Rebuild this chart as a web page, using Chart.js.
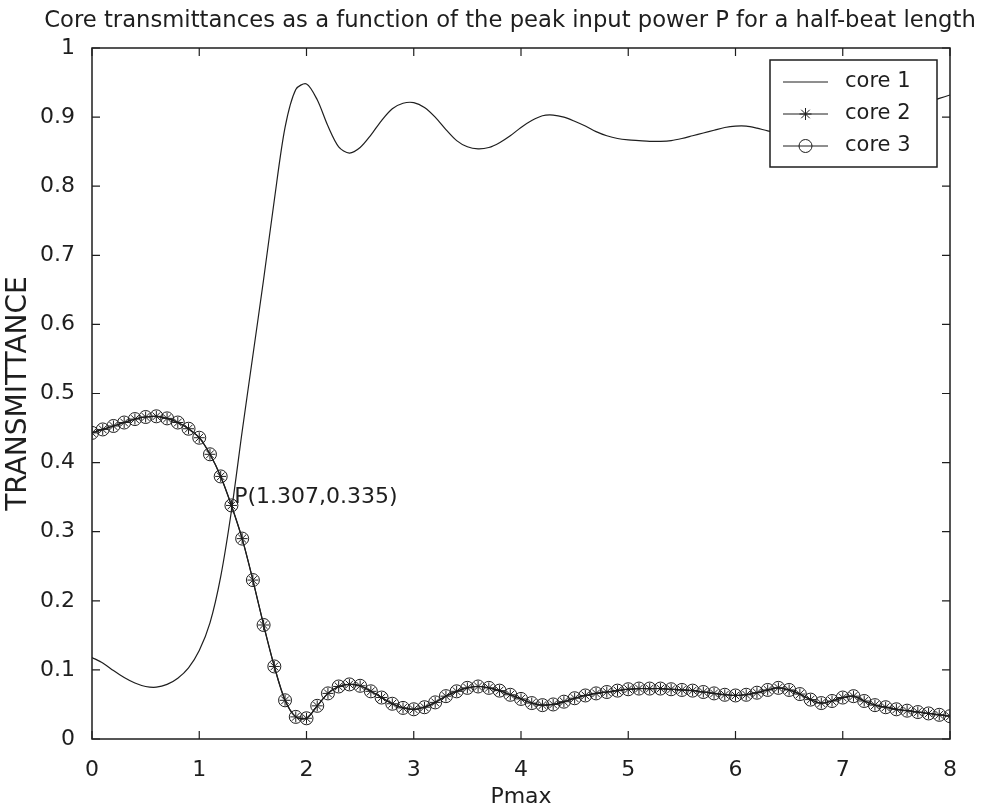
<!DOCTYPE html>
<html lang="en">
<head>
    <meta charset="UTF-8">
    <title>Core transmittances</title>
    <script src="https://cdn.jsdelivr.net/npm/chart.js"></script>
    <style>
        body {
            margin: 0;
            background: #ffffff;
        }
        #chartContainer {
            width: 982px;
            height: 812px;
        }
    </style>
</head>
<body>
    <div id="chartContainer">
        <canvas id="myChart" width="982" height="812"></canvas>
    </div>

    <script>
        // Pmax samples (step 0.1)
        const pmax = [
            0.0, 0.1, 0.2, 0.3, 0.4, 0.5, 0.6, 0.7, 0.8, 0.9,
            1.0, 1.1, 1.2, 1.3, 1.4, 1.5, 1.6, 1.7, 1.8, 1.9,
            2.0, 2.1, 2.2, 2.3, 2.4, 2.5, 2.6, 2.7, 2.8, 2.9,
            3.0, 3.1, 3.2, 3.3, 3.4, 3.5, 3.6, 3.7, 3.8, 3.9,
            4.0, 4.1, 4.2, 4.3, 4.4, 4.5, 4.6, 4.7, 4.8, 4.9,
            5.0, 5.1, 5.2, 5.3, 5.4, 5.5, 5.6, 5.7, 5.8, 5.9,
            6.0, 6.1, 6.2, 6.3, 6.4, 6.5, 6.6, 6.7, 6.8, 6.9,
            7.0, 7.1, 7.2, 7.3, 7.4, 7.5, 7.6, 7.7, 7.8, 7.9,
            8.0
        ];
        const core1 = [
            0.118, 0.110, 0.099, 0.089, 0.081, 0.076, 0.075, 0.079, 0.088, 0.103,
            0.128, 0.168, 0.235, 0.330, 0.445, 0.555, 0.665, 0.780, 0.885, 0.940,
            0.948, 0.925, 0.887, 0.857, 0.848, 0.856, 0.874, 0.895, 0.912, 0.920,
            0.921, 0.914, 0.900, 0.882, 0.866, 0.857, 0.854, 0.856, 0.863, 0.873,
            0.885, 0.895, 0.902, 0.903, 0.900, 0.894, 0.887, 0.879, 0.873, 0.869,
            0.867, 0.866, 0.865, 0.865, 0.866, 0.869, 0.873, 0.877, 0.881, 0.885,
            0.887, 0.887, 0.884, 0.880, 0.877, 0.876, 0.878, 0.882, 0.886, 0.889,
            0.891, 0.893, 0.896, 0.900, 0.905, 0.910, 0.914, 0.918, 0.922, 0.927,
            0.932
        ];
        // core 2 and core 3 coincide
        const core2 = [
            0.443, 0.448, 0.453, 0.458, 0.463, 0.466, 0.467, 0.464, 0.458, 0.449,
            0.436, 0.412, 0.380, 0.338, 0.290, 0.230, 0.165, 0.105, 0.056, 0.032,
            0.030, 0.048, 0.066, 0.076, 0.079, 0.077, 0.069, 0.060, 0.051, 0.045,
            0.043, 0.046, 0.053, 0.062, 0.069, 0.074, 0.076, 0.074, 0.070, 0.064,
            0.058, 0.052, 0.049, 0.050, 0.054, 0.059, 0.063, 0.066, 0.068, 0.070,
            0.072, 0.073, 0.073, 0.073, 0.072, 0.071, 0.070, 0.068, 0.066, 0.064,
            0.063, 0.064, 0.067, 0.071, 0.074, 0.071, 0.065, 0.057, 0.052, 0.055,
            0.060, 0.062, 0.055, 0.049, 0.046, 0.043, 0.041, 0.039, 0.037, 0.035,
            0.033
        ];
        const core3 = core2.slice();

        const xTickValues = [0, 1, 2, 3, 4, 5, 6, 7, 8];
        const yTickValues = [0, 0.1, 0.2, 0.3, 0.4, 0.5, 0.6, 0.7, 0.8, 0.9, 1];
        const crossPoint = { x: 1.307, y: 0.335 };

        const ink = '#1e1e1e';
        const font = 'DejaVu Sans';

        function pts(ys) {
            return pmax.map((x, i) => ({ x: x, y: ys[i] }));
        }

        // box, inward ticks, title, text label and legend
        const matlabLook = {
            id: 'matlabLook',
            beforeDraw(chart) {
                const c = chart.ctx;
                c.save();
                c.fillStyle = '#ffffff';
                c.fillRect(0, 0, chart.width, chart.height);
                c.restore();
            },
            afterDatasetsDraw(chart) {
                const c = chart.ctx;
                const a = chart.chartArea;
                const xs = chart.scales.x, ys = chart.scales.y;
                c.save();
                c.strokeStyle = ink;
                c.lineWidth = 1.5;
                c.strokeRect(a.left, a.top, a.right - a.left, a.bottom - a.top);
                c.lineWidth = 1.2;
                c.beginPath();
                xTickValues.forEach(v => {
                    const px = xs.getPixelForValue(v);
                    c.moveTo(px, a.bottom); c.lineTo(px, a.bottom - 8);
                    c.moveTo(px, a.top); c.lineTo(px, a.top + 8);
                });
                yTickValues.forEach(v => {
                    const py = ys.getPixelForValue(v);
                    c.moveTo(a.left, py); c.lineTo(a.left + 8, py);
                    c.moveTo(a.right, py); c.lineTo(a.right - 8, py);
                });
                c.stroke();

                // title
                c.fillStyle = ink;
                c.font = '22.7px "' + font + '"';
                c.textAlign = 'center';
                c.textBaseline = 'middle';
                c.fillText('Core transmittances as a function of the peak input power P for a half-beat length', 510, 21);

                // crossing point label
                c.font = '22px "' + font + '"';
                c.textAlign = 'left';
                c.fillText('P(1.307,0.335)',
                    xs.getPixelForValue(crossPoint.x) + 2,
                    ys.getPixelForValue(crossPoint.y) - 10);

                // legend
                const bw = 167, bh = 107;
                const bx = a.right - 13 - bw, by = a.top + 12;
                c.fillStyle = '#ffffff';
                c.fillRect(bx, by, bw, bh);
                c.lineWidth = 1.5;
                c.strokeRect(bx, by, bw, bh);
                const rows = [
                    { label: 'core 1', style: false },
                    { label: 'core 2', style: 'star', r: 6 },
                    { label: 'core 3', style: 'circle', r: 6.5 }
                ];
                rows.forEach((row, i) => {
                    const y = by + 22 + i * 32;
                    c.strokeStyle = ink;
                    c.lineWidth = 1;
                    c.beginPath();
                    c.moveTo(bx + 13, y); c.lineTo(bx + 58, y);
                    c.stroke();
                    if (row.style) {
                        c.fillStyle = 'rgba(0,0,0,0)';
                        Chart.helpers.drawPoint(c, {
                            pointStyle: row.style, radius: row.r, borderWidth: 1, rotation: 0
                        }, bx + 35.5, y);
                    }
                    c.fillStyle = ink;
                    c.font = '21px "' + font + '"';
                    c.textAlign = 'left';
                    c.textBaseline = 'middle';
                    c.fillText(row.label, bx + 75, y);
                });
                c.restore();
            }
        };

        const ctx = document.getElementById('myChart').getContext('2d');
        let myChart = new Chart(ctx, {
            type: 'line',
            data: {
                datasets: [{
                    label: 'core 1',
                    data: pts(core1),
                    borderColor: ink,
                    borderWidth: 1.2,
                    pointRadius: 0,
                    tension: 0.3
                }, {
                    label: 'core 2',
                    data: pts(core2),
                    borderColor: ink,
                    borderWidth: 1.2,
                    pointStyle: 'star',
                    pointRadius: 5.5,
                    pointBorderColor: ink,
                    pointBorderWidth: 1,
                    tension: 0.3
                }, {
                    label: 'core 3',
                    data: pts(core3),
                    borderColor: ink,
                    borderWidth: 1.2,
                    pointStyle: 'circle',
                    pointRadius: 6.5,
                    pointBackgroundColor: 'rgba(0,0,0,0)',
                    pointBorderColor: ink,
                    pointBorderWidth: 1,
                    tension: 0.3
                }]
            },
            options: {
                responsive: false,
                animation: false,
                layout: { padding: { top: 48, right: 32, left: 0, bottom: 0 } },
                plugins: {
                    legend: { display: false },
                    tooltip: { enabled: false }
                },
                scales: {
                    x: {
                        type: 'linear',
                        min: 0,
                        max: 8,
                        afterBuildTicks: s => { s.ticks = xTickValues.map(v => ({ value: v })); },
                        afterFit: s => { s.height = 73; },
                        grid: { display: false },
                        border: { display: false },
                        ticks: {
                            color: ink,
                            padding: 10,
                            maxRotation: 0,
                            callback: v => String(+v.toFixed(1)),
                            font: { family: font, size: 22 }
                        },
                        title: {
                            display: true,
                            text: 'Pmax',
                            color: ink,
                            padding: { top: 0, bottom: 2 },
                            font: { family: font, size: 22 }
                        }
                    },
                    y: {
                        min: 0,
                        max: 1,
                        afterBuildTicks: s => { s.ticks = yTickValues.map(v => ({ value: v })); },
                        afterFit: s => { s.width = 92; },
                        grid: { display: false },
                        border: { display: false },
                        ticks: {
                            color: ink,
                            padding: 9,
                            callback: v => String(+v.toFixed(1)),
                            font: { family: font, size: 22 }
                        },
                        title: {
                            display: true,
                            text: 'TRANSMITTANCE',
                            color: ink,
                            padding: { top: 2, bottom: 0 },
                            font: { family: font, size: 28 }
                        }
                    }
                }
            },
            plugins: [matlabLook]
        });
    </script>
</body>
</html>
